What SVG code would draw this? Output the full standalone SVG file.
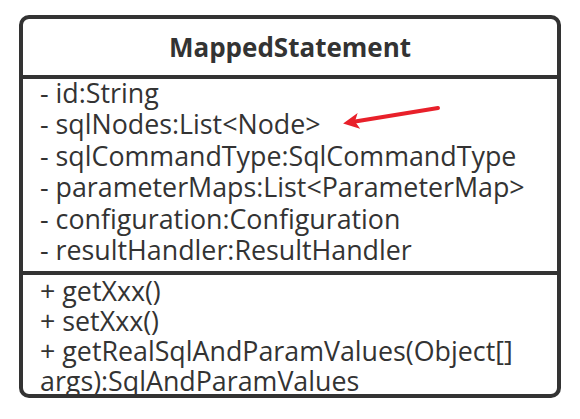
<svg xmlns="http://www.w3.org/2000/svg" width="580" height="419" viewBox="0 0 580 419">
<style>
.t{font-family:"Open Sans","Noto Sans","DejaVu Sans",sans-serif;font-size:26.8px;fill:#333}
.h{font-family:"Open Sans","Noto Sans","DejaVu Sans",sans-serif;font-size:26px;font-weight:bold;fill:#333}
.ln{stroke:#333;stroke-width:4;fill:none}
</style>
<defs>
<marker id="ah" markerWidth="18" markerHeight="18" refX="7" refY="8" orient="auto" markerUnits="userSpaceOnUse" viewBox="0 0 18 18">
<path d="M16,8 L0,0 L4,8 L0,16 Z" fill="#e8202a"/>
</marker>
</defs>
<rect width="580" height="419" fill="#fff"/>
<g id="class-MappedStatement">
<text class="h" x="290" y="57" text-anchor="middle">MappedStatement</text>
<g id="attributes">
<text class="t" x="40" y="103">- id:String</text>
<text class="t" x="40" y="134">- sqlNodes:List&lt;Node&gt;</text>
<text class="t" x="40" y="166">- sqlCommandType:SqlCommandType</text>
<text class="t" x="40" y="197">- parameterMaps:List&lt;ParameterMap&gt;</text>
<text class="t" x="40" y="229">- configuration:Configuration</text>
<text class="t" x="40" y="260">- resultHandler:ResultHandler</text>
</g>
<g id="methods">
<text class="t" x="40" y="301">+ getXxx()</text>
<text class="t" x="40" y="331">+ setXxx()</text>
<text class="t" x="40" y="361">+ getRealSqlAndParamValues(Object[]</text>
<text class="t" x="40" y="391">args):SqlAndParamValues</text>
</g>
<line class="ln" x1="21" y1="77" x2="559" y2="77"/>
<line class="ln" x1="21" y1="273" x2="559" y2="273"/>
<rect class="ln" x="21" y="17" width="538" height="379" rx="8"/>
</g>
<g id="connectors">
<line x1="438" y1="108" x2="352" y2="122" stroke="#e8202a" stroke-width="4" stroke-linecap="round" marker-end="url(#ah)"/>
</g>
</svg>
